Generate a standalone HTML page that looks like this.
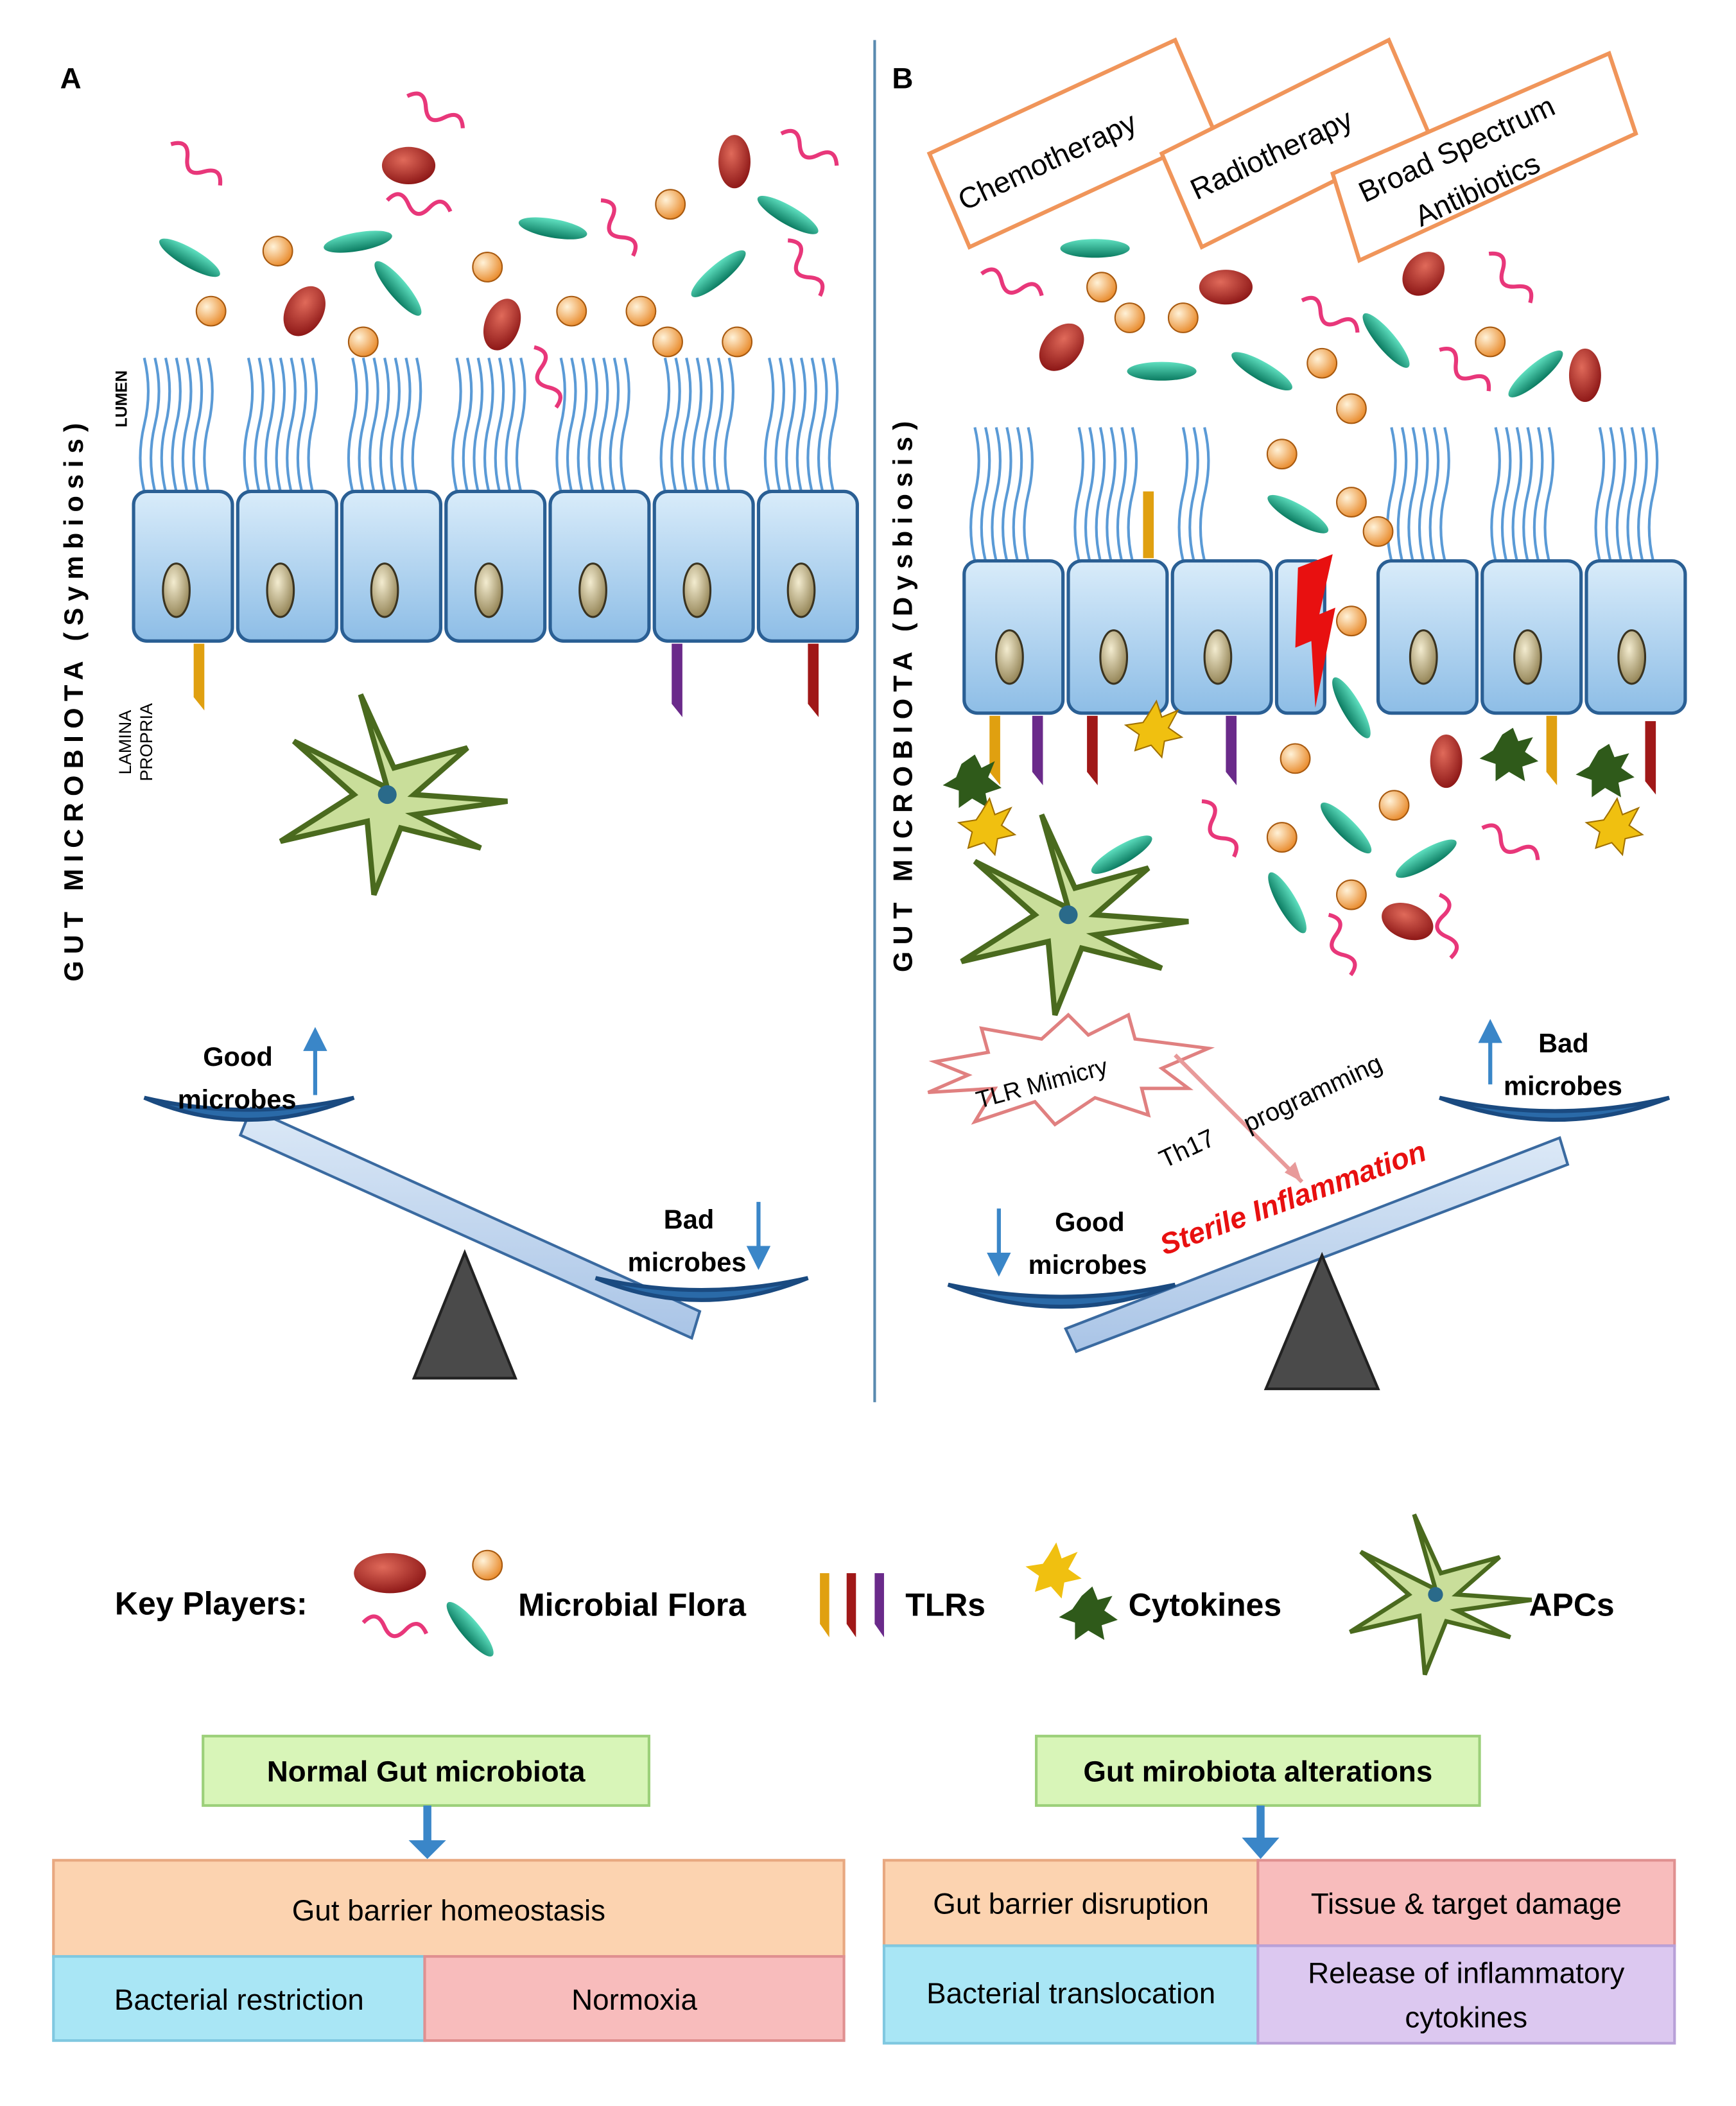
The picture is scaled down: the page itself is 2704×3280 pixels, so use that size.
<!DOCTYPE html>
<html><head><meta charset="utf-8"><style>
html,body{margin:0;padding:0;background:#fff}
svg{display:block}
text{font-family:"Liberation Sans",sans-serif}
</style></head><body>
<svg width="2704" height="3280" viewBox="0 0 1300 1577" xmlns="http://www.w3.org/2000/svg">
<defs>
<linearGradient id="cell" x1="0" y1="0" x2="0" y2="1"><stop offset="0" stop-color="#d9ecfa"/><stop offset="1" stop-color="#8dbde6"/></linearGradient>
<linearGradient id="beam" x1="0" y1="0" x2="0" y2="1"><stop offset="0" stop-color="#dce9f7"/><stop offset="1" stop-color="#a9c4e6"/></linearGradient>
<radialGradient id="ball" cx="0.35" cy="0.35" r="0.7"><stop offset="0" stop-color="#fff2d8"/><stop offset="1" stop-color="#e98a2a"/></radialGradient>
<radialGradient id="red" cx="0.4" cy="0.35" r="0.7"><stop offset="0" stop-color="#e06a5a"/><stop offset="1" stop-color="#8a1414"/></radialGradient>
<linearGradient id="rod" x1="0" y1="0" x2="0" y2="1"><stop offset="0" stop-color="#5fe0c0"/><stop offset="1" stop-color="#0a7a60"/></linearGradient>
<radialGradient id="nuc" cx="0.4" cy="0.35" r="0.7"><stop offset="0" stop-color="#f3ecd0"/><stop offset="1" stop-color="#8f7f50"/></radialGradient>
<marker id="ah" markerWidth="6" markerHeight="6" refX="3" refY="3" orient="auto"><path d="M0,0 L6,3 L0,6z" fill="#3a86c8"/></marker>
<g id="apc"><path d="M0,0 L-20,-70 L5,-15 L60,-30 L20,5 L90,10 L20,20 L70,45 L10,30 L-10,80 L-15,25 L-80,40 L-25,5 L-70,-35z" fill="#c9de9a" stroke="#4a6a1e" stroke-width="4"/><circle cx="0" cy="5" r="7" fill="#2a6a8a"/></g>
<g id="wave"><path d="M0,0 q8,-12 16,0 t16,0 t16,0" fill="none" stroke="#e8377a" stroke-width="3"/></g>
</defs>

<!-- divider -->
<line x1="655" y1="30" x2="655" y2="1050" stroke="#5a8ab0" stroke-width="2"/>
<text x="45" y="66" font-size="22" font-weight="bold">A</text>
<text x="668" y="66" font-size="22" font-weight="bold">B</text>

<!-- vertical labels -->
<text transform="translate(62,735) rotate(-90)" font-size="20" font-weight="bold" letter-spacing="5">GUT MICROBIOTA (Symbiosis)</text>
<text transform="translate(95,320) rotate(-90)" font-size="12" font-weight="bold">LUMEN</text>
<text transform="translate(98,580) rotate(-90)" font-size="13">LAMINA</text>
<text transform="translate(114,585) rotate(-90)" font-size="13">PROPRIA</text>
<text transform="translate(683,728) rotate(-90)" font-size="20" font-weight="bold" letter-spacing="5">GUT MICROBIOTA (Dysbiosis)</text>

<!-- left cells -->
<g id="cellsL">
<g fill="none" stroke="#5a9ad6" stroke-width="2">
<path d="M108,368 q-6,-25 0,-50 t0,-50 M116,368 q-6,-25 0,-50 t0,-50 M124,368 q-6,-25 0,-50 t0,-50 M132,368 q-6,-25 0,-50 t0,-50 M140,368 q-6,-25 0,-50 t0,-50 M148,368 q-6,-25 0,-50 t0,-50 M156,368 q-6,-25 0,-50 t0,-50"/>
<path transform="translate(78,0)" d="M108,368 q-6,-25 0,-50 t0,-50 M116,368 q-6,-25 0,-50 t0,-50 M124,368 q-6,-25 0,-50 t0,-50 M132,368 q-6,-25 0,-50 t0,-50 M140,368 q-6,-25 0,-50 t0,-50 M148,368 q-6,-25 0,-50 t0,-50 M156,368 q-6,-25 0,-50 t0,-50"/>
<path transform="translate(156,0)" d="M108,368 q-6,-25 0,-50 t0,-50 M116,368 q-6,-25 0,-50 t0,-50 M124,368 q-6,-25 0,-50 t0,-50 M132,368 q-6,-25 0,-50 t0,-50 M140,368 q-6,-25 0,-50 t0,-50 M148,368 q-6,-25 0,-50 t0,-50 M156,368 q-6,-25 0,-50 t0,-50"/>
<path transform="translate(234,0)" d="M108,368 q-6,-25 0,-50 t0,-50 M116,368 q-6,-25 0,-50 t0,-50 M124,368 q-6,-25 0,-50 t0,-50 M132,368 q-6,-25 0,-50 t0,-50 M140,368 q-6,-25 0,-50 t0,-50 M148,368 q-6,-25 0,-50 t0,-50 M156,368 q-6,-25 0,-50 t0,-50"/>
<path transform="translate(312,0)" d="M108,368 q-6,-25 0,-50 t0,-50 M116,368 q-6,-25 0,-50 t0,-50 M124,368 q-6,-25 0,-50 t0,-50 M132,368 q-6,-25 0,-50 t0,-50 M140,368 q-6,-25 0,-50 t0,-50 M148,368 q-6,-25 0,-50 t0,-50 M156,368 q-6,-25 0,-50 t0,-50"/>
<path transform="translate(390,0)" d="M108,368 q-6,-25 0,-50 t0,-50 M116,368 q-6,-25 0,-50 t0,-50 M124,368 q-6,-25 0,-50 t0,-50 M132,368 q-6,-25 0,-50 t0,-50 M140,368 q-6,-25 0,-50 t0,-50 M148,368 q-6,-25 0,-50 t0,-50 M156,368 q-6,-25 0,-50 t0,-50"/>
<path transform="translate(468,0)" d="M108,368 q-6,-25 0,-50 t0,-50 M116,368 q-6,-25 0,-50 t0,-50 M124,368 q-6,-25 0,-50 t0,-50 M132,368 q-6,-25 0,-50 t0,-50 M140,368 q-6,-25 0,-50 t0,-50 M148,368 q-6,-25 0,-50 t0,-50 M156,368 q-6,-25 0,-50 t0,-50"/>
</g>
<g fill="url(#cell)" stroke="#2a5f94" stroke-width="2.5">
<rect x="100" y="368" width="74" height="112" rx="10"/><rect x="178" y="368" width="74" height="112" rx="10"/><rect x="256" y="368" width="74" height="112" rx="10"/><rect x="334" y="368" width="74" height="112" rx="10"/><rect x="412" y="368" width="74" height="112" rx="10"/><rect x="490" y="368" width="74" height="112" rx="10"/><rect x="568" y="368" width="74" height="112" rx="10"/>
</g>
<g fill="url(#nuc)" stroke="#3a3320" stroke-width="1.5">
<ellipse cx="132" cy="442" rx="10" ry="20"/><ellipse cx="210" cy="442" rx="10" ry="20"/><ellipse cx="288" cy="442" rx="10" ry="20"/><ellipse cx="366" cy="442" rx="10" ry="20"/><ellipse cx="444" cy="442" rx="10" ry="20"/><ellipse cx="522" cy="442" rx="10" ry="20"/><ellipse cx="600" cy="442" rx="10" ry="20"/>
</g>
</g>
<!-- left TLRs -->
<path d="M145,482 h8 v50 l-8,-10z" fill="#e0a010"/>
<path d="M503,482 h8 v55 l-8,-10z" fill="#6a2a8a"/>
<path d="M605,482 h8 v55 l-8,-10z" fill="#a01818"/>
<use href="#apc" transform="translate(290,590)"/>

<!-- left microbes -->
<g fill="url(#ball)" stroke="#a85a10" stroke-width="1">
<circle cx="208" cy="188" r="11"/><circle cx="158" cy="233" r="11"/><circle cx="272" cy="256" r="11"/><circle cx="365" cy="200" r="11"/><circle cx="428" cy="233" r="11"/><circle cx="480" cy="233" r="11"/><circle cx="500" cy="256" r="11"/><circle cx="552" cy="256" r="11"/><circle cx="502" cy="153" r="11"/>
</g>
<g fill="url(#red)">
<ellipse cx="228" cy="233" rx="14" ry="20" transform="rotate(30 228 233)"/><ellipse cx="306" cy="124" rx="20" ry="14"/><ellipse cx="376" cy="243" rx="13" ry="20" transform="rotate(20 376 243)"/><ellipse cx="550" cy="121" rx="12" ry="20"/>
</g>
<g fill="url(#rod)">
<ellipse cx="142" cy="193" rx="26" ry="7" transform="rotate(30 142 193)"/><ellipse cx="268" cy="181" rx="26" ry="7" transform="rotate(-10 268 181)"/><ellipse cx="298" cy="216" rx="26" ry="7" transform="rotate(50 298 216)"/><ellipse cx="414" cy="171" rx="26" ry="7" transform="rotate(10 414 171)"/><ellipse cx="538" cy="205" rx="26" ry="7" transform="rotate(-40 538 205)"/><ellipse cx="590" cy="161" rx="26" ry="7" transform="rotate(30 590 161)"/>
</g>
<use href="#wave" transform="translate(128,108) rotate(40)"/><use href="#wave" transform="translate(305,72) rotate(30)"/><use href="#wave" transform="translate(290,150) rotate(10)"/><use href="#wave" transform="translate(450,150) rotate(60)"/><use href="#wave" transform="translate(585,100) rotate(30)"/><use href="#wave" transform="translate(590,180) rotate(60)"/><use href="#wave" transform="translate(400,260) rotate(70)"/>

<!-- left seesaw -->
<polygon points="180,850 188,830 524,982 518,1002" fill="url(#beam)" stroke="#3a6aa0" stroke-width="2"/>
<polygon points="310,1032 386,1032 348,938" fill="#4a4a4a" stroke="#222" stroke-width="2"/>
<path d="M108,822 Q185,855 265,822 Q185,840 108,822z" fill="#2a6aa8" stroke="#1a4a80" stroke-width="3"/>
<path d="M446,957 Q525,990 605,957 Q525,975 446,957z" fill="#2a6aa8" stroke="#1a4a80" stroke-width="3"/>
<text x="152" y="798" font-size="20" font-weight="bold">Good</text><text x="133" y="830" font-size="20" font-weight="bold">microbes</text>
<line x1="236" y1="820" x2="236" y2="778" stroke="#3a86c8" stroke-width="3" marker-end="url(#ah)"/>
<text x="497" y="920" font-size="20" font-weight="bold">Bad</text><text x="470" y="952" font-size="20" font-weight="bold">microbes</text>
<line x1="568" y1="900" x2="568" y2="942" stroke="#3a86c8" stroke-width="3" marker-end="url(#ah)"/>

<!-- right boxes -->
<g fill="#fff" stroke="#f0955a" stroke-width="3">
<polygon points="696,115 880,30 910,100 726,185"/>
<polygon points="870,115 1040,30 1070,100 900,185"/>
<polygon points="998,130 1205,40 1225,100 1018,195"/>
</g>
<text transform="translate(722,158) rotate(-25)" font-size="22">Chemotherapy</text>
<text transform="translate(896,150) rotate(-25)" font-size="22">Radiotherapy</text>
<text transform="translate(1022,152) rotate(-25)" font-size="22">Broad Spectrum</text>
<text transform="translate(1064,170) rotate(-25)" font-size="22">Antibiotics</text>

<!-- right cells -->
<g fill="none" stroke="#5a9ad6" stroke-width="2">
<path transform="translate(622,52)" d="M108,368 q-6,-25 0,-50 t0,-50 M116,368 q-6,-25 0,-50 t0,-50 M124,368 q-6,-25 0,-50 t0,-50 M132,368 q-6,-25 0,-50 t0,-50 M140,368 q-6,-25 0,-50 t0,-50 M148,368 q-6,-25 0,-50 t0,-50"/>
<path transform="translate(700,52)" d="M108,368 q-6,-25 0,-50 t0,-50 M116,368 q-6,-25 0,-50 t0,-50 M124,368 q-6,-25 0,-50 t0,-50 M132,368 q-6,-25 0,-50 t0,-50 M140,368 q-6,-25 0,-50 t0,-50 M148,368 q-6,-25 0,-50 t0,-50"/>
<path transform="translate(778,52)" d="M108,368 q-6,-25 0,-50 t0,-50 M116,368 q-6,-25 0,-50 t0,-50 M124,368 q-6,-25 0,-50 t0,-50"/>
<path transform="translate(934,52)" d="M108,368 q-6,-25 0,-50 t0,-50 M116,368 q-6,-25 0,-50 t0,-50 M124,368 q-6,-25 0,-50 t0,-50 M132,368 q-6,-25 0,-50 t0,-50 M140,368 q-6,-25 0,-50 t0,-50 M148,368 q-6,-25 0,-50 t0,-50"/>
<path transform="translate(1012,52)" d="M108,368 q-6,-25 0,-50 t0,-50 M116,368 q-6,-25 0,-50 t0,-50 M124,368 q-6,-25 0,-50 t0,-50 M132,368 q-6,-25 0,-50 t0,-50 M140,368 q-6,-25 0,-50 t0,-50 M148,368 q-6,-25 0,-50 t0,-50"/>
<path transform="translate(1090,52)" d="M108,368 q-6,-25 0,-50 t0,-50 M116,368 q-6,-25 0,-50 t0,-50 M124,368 q-6,-25 0,-50 t0,-50 M132,368 q-6,-25 0,-50 t0,-50 M140,368 q-6,-25 0,-50 t0,-50 M148,368 q-6,-25 0,-50 t0,-50"/>
</g>
<g fill="url(#cell)" stroke="#2a5f94" stroke-width="2.5">
<rect x="722" y="420" width="74" height="114" rx="10"/><rect x="800" y="420" width="74" height="114" rx="10"/><rect x="878" y="420" width="74" height="114" rx="10"/><rect x="956" y="420" width="36" height="114" rx="8"/><rect x="1032" y="420" width="74" height="114" rx="10"/><rect x="1110" y="420" width="74" height="114" rx="10"/><rect x="1188" y="420" width="74" height="114" rx="10"/>
</g>
<polygon points="972,425 998,415 988,460 1000,455 985,530 982,480 970,485" fill="#e81010"/>
<g fill="url(#nuc)" stroke="#3a3320" stroke-width="1.5">
<ellipse cx="756" cy="492" rx="10" ry="20"/><ellipse cx="834" cy="492" rx="10" ry="20"/><ellipse cx="912" cy="492" rx="10" ry="20"/><ellipse cx="1066" cy="492" rx="10" ry="20"/><ellipse cx="1144" cy="492" rx="10" ry="20"/><ellipse cx="1222" cy="492" rx="10" ry="20"/>
</g>
<path d="M856,368 h8 v50 h-8z" fill="#e0a010"/>
<path d="M741,536 h8 v52 l-8,-10z" fill="#e0a010"/><path d="M773,536 h8 v52 l-8,-10z" fill="#6a2a8a"/><path d="M814,536 h8 v52 l-8,-10z" fill="#a01818"/><path d="M918,536 h8 v52 l-8,-10z" fill="#6a2a8a"/><path d="M1158,536 h8 v52 l-8,-10z" fill="#e0a010"/><path d="M1232,540 h8 v55 l-8,-10z" fill="#a01818"/>
<g fill="#2f5a1a"><polygon points="720,572 730,565 735,575 745,570 740,582 750,590 738,594 740,605 728,598 718,605 718,592 706,588 716,582"/>
<polygon points="1125,550 1133,545 1137,555 1148,552 1142,563 1152,570 1140,574 1142,585 1130,578 1120,585 1120,572 1108,568 1118,562"/>
<polygon points="1197,562 1205,557 1209,567 1220,564 1214,575 1224,582 1212,586 1214,597 1202,590 1192,597 1192,584 1180,580 1190,574"/></g>
<g fill="#f0c010" stroke="#a07000" stroke-width="1"><polygon points="860,535 866,525 870,537 882,532 875,545 885,552 872,555 870,567 862,558 850,562 853,550 843,543 856,541"/>
<polygon points="735,608 741,598 745,610 757,605 750,618 760,625 747,628 745,640 737,631 725,635 728,623 718,616 731,614"/>
<polygon points="1205,608 1211,598 1215,610 1227,605 1220,618 1230,625 1217,628 1215,640 1207,631 1195,635 1198,623 1188,616 1201,614"/></g>
<use href="#apc" transform="translate(800,680)"/>

<!-- right microbes -->
<g fill="url(#ball)" stroke="#a85a10" stroke-width="1">
<circle cx="825" cy="215" r="11"/><circle cx="846" cy="238" r="11"/><circle cx="886" cy="238" r="11"/><circle cx="990" cy="272" r="11"/><circle cx="1012" cy="306" r="11"/><circle cx="960" cy="340" r="11"/><circle cx="1012" cy="376" r="11"/><circle cx="1032" cy="398" r="11"/><circle cx="1116" cy="256" r="11"/><circle cx="1012" cy="465" r="11"/><circle cx="970" cy="568" r="11"/><circle cx="1044" cy="603" r="11"/><circle cx="960" cy="627" r="11"/><circle cx="1012" cy="670" r="11"/>
</g>
<g fill="url(#red)">
<ellipse cx="795" cy="260" rx="14" ry="20" transform="rotate(40 795 260)"/><ellipse cx="918" cy="215" rx="20" ry="13"/><ellipse cx="1066" cy="205" rx="14" ry="18" transform="rotate(40 1066 205)"/><ellipse cx="1187" cy="281" rx="12" ry="20"/><ellipse cx="1083" cy="570" rx="12" ry="20"/><ellipse cx="1054" cy="690" rx="20" ry="13" transform="rotate(20 1054 690)"/>
</g>
<g fill="url(#rod)">
<ellipse cx="820" cy="186" rx="26" ry="7"/><ellipse cx="870" cy="278" rx="26" ry="7"/><ellipse cx="945" cy="278" rx="26" ry="7" transform="rotate(30 945 278)"/><ellipse cx="1038" cy="255" rx="26" ry="7" transform="rotate(50 1038 255)"/><ellipse cx="1150" cy="280" rx="26" ry="7" transform="rotate(-40 1150 280)"/><ellipse cx="972" cy="385" rx="26" ry="7" transform="rotate(30 972 385)"/><ellipse cx="1012" cy="530" rx="26" ry="7" transform="rotate(60 1012 530)"/><ellipse cx="840" cy="640" rx="26" ry="7" transform="rotate(-30 840 640)"/><ellipse cx="1008" cy="620" rx="26" ry="7" transform="rotate(45 1008 620)"/><ellipse cx="1068" cy="643" rx="26" ry="7" transform="rotate(-30 1068 643)"/><ellipse cx="964" cy="676" rx="26" ry="7" transform="rotate(60 964 676)"/>
</g>
<use href="#wave" transform="translate(735,205) rotate(20)"/><use href="#wave" transform="translate(975,225) rotate(30)"/><use href="#wave" transform="translate(1115,190) rotate(50)"/><use href="#wave" transform="translate(1078,262) rotate(40)"/><use href="#wave" transform="translate(900,600) rotate(60)"/><use href="#wave" transform="translate(1110,620) rotate(30)"/><use href="#wave" transform="translate(995,685) rotate(70)"/><use href="#wave" transform="translate(1078,670) rotate(80)"/>

<!-- TLR Mimicry -->
<polygon points="700,795 740,788 735,770 780,778 800,760 815,775 845,760 850,778 905,785 870,800 890,815 855,815 860,835 820,822 790,842 775,825 730,840 745,815 695,818 725,805" fill="#fff" stroke="#e08080" stroke-width="2.5"/>
<text transform="translate(733,830) rotate(-15)" font-size="18">TLR Mimicry</text>
<line x1="880" y1="790" x2="975" y2="885" stroke="#e89a9a" stroke-width="3"/>
<polygon points="975,885 962,878 970,870" fill="#e89a9a"/>
<text transform="translate(872,875) rotate(-25)" font-size="19">Th17</text>
<text transform="translate(935,848) rotate(-25)" font-size="19">programming</text>
<text transform="translate(872,940) rotate(-20)" font-size="22" font-weight="bold" font-style="italic" fill="#e81010">Sterile Inflammation</text>

<!-- right seesaw -->
<polygon points="798,995 1168,852 1174,872 806,1012" fill="url(#beam)" stroke="#3a6aa0" stroke-width="2"/>
<polygon points="948,1040 1032,1040 990,940" fill="#4a4a4a" stroke="#222" stroke-width="2"/>
<path d="M710,962 Q795,995 880,962 Q795,980 710,962z" fill="#2a6aa8" stroke="#1a4a80" stroke-width="3"/>
<path d="M1078,822 Q1165,855 1250,822 Q1165,842 1078,822z" fill="#2a6aa8" stroke="#1a4a80" stroke-width="3"/>
<text x="790" y="922" font-size="20" font-weight="bold">Good</text><text x="770" y="954" font-size="20" font-weight="bold">microbes</text>
<line x1="748" y1="905" x2="748" y2="947" stroke="#3a86c8" stroke-width="3" marker-end="url(#ah)"/>
<text x="1152" y="788" font-size="20" font-weight="bold">Bad</text><text x="1126" y="820" font-size="20" font-weight="bold">microbes</text>
<line x1="1116" y1="812" x2="1116" y2="772" stroke="#3a86c8" stroke-width="3" marker-end="url(#ah)"/>

<!-- key players -->
<text x="86" y="1209" font-size="24" font-weight="bold">Key Players:</text>
<ellipse cx="292" cy="1178" rx="27" ry="15" fill="url(#red)"/>
<circle cx="365" cy="1172" r="11" fill="url(#ball)" stroke="#a85a10"/>
<use href="#wave" transform="translate(272,1215) rotate(10)"/>
<ellipse cx="352" cy="1220" rx="26" ry="7" transform="rotate(50 352 1220)" fill="url(#rod)"/>
<text x="388" y="1210" font-size="24" font-weight="bold">Microbial Flora</text>
<path d="M614,1178 h7 v48 l-7,-10z" fill="#e0a010"/><path d="M634,1178 h7 v48 l-7,-10z" fill="#a01818"/><path d="M655,1178 h7 v48 l-7,-10z" fill="#6a2a8a"/>
<text x="678" y="1210" font-size="24" font-weight="bold">TLRs</text>
<polygon points="785,1165 791,1155 795,1167 807,1162 800,1175 810,1182 797,1185 795,1197 787,1188 775,1192 778,1180 768,1173 781,1171" fill="#f0c010"/>
<polygon points="810,1195 818,1188 822,1198 833,1195 827,1206 837,1213 825,1217 827,1228 815,1221 805,1228 805,1215 793,1211 803,1205" fill="#2f5a1a"/>
<text x="845" y="1210" font-size="24" font-weight="bold">Cytokines</text>
<use href="#apc" transform="translate(1075,1190) scale(0.8)"/>
<text x="1145" y="1210" font-size="24" font-weight="bold">APCs</text>

<!-- bottom left -->
<rect x="152" y="1300" width="334" height="52" fill="#d8f5b8" stroke="#9cd07a" stroke-width="2"/>
<text x="319" y="1334" font-size="22" font-weight="bold" text-anchor="middle">Normal Gut microbiota</text>
<line x1="320" y1="1352" x2="320" y2="1382" stroke="#3a86c8" stroke-width="6"/>
<polygon points="306,1378 334,1378 320,1392" fill="#3a86c8"/>
<rect x="40" y="1393" width="592" height="72" fill="#fcd3b0" stroke="#e8a880" stroke-width="2"/>
<text x="336" y="1438" font-size="22" text-anchor="middle">Gut barrier homeostasis</text>
<rect x="40" y="1465" width="278" height="63" fill="#a9e6f5" stroke="#80c8e0" stroke-width="2"/>
<text x="179" y="1505" font-size="22" text-anchor="middle">Bacterial restriction</text>
<rect x="318" y="1465" width="314" height="63" fill="#f8bcbc" stroke="#e09090" stroke-width="2"/>
<text x="475" y="1505" font-size="22" text-anchor="middle">Normoxia</text>

<!-- bottom right -->
<rect x="776" y="1300" width="332" height="52" fill="#d8f5b8" stroke="#9cd07a" stroke-width="2"/>
<text x="942" y="1334" font-size="22" font-weight="bold" text-anchor="middle">Gut mirobiota alterations</text>
<line x1="944" y1="1352" x2="944" y2="1380" stroke="#3a86c8" stroke-width="6"/>
<polygon points="930,1376 958,1376 944,1392" fill="#3a86c8"/>
<rect x="662" y="1393" width="280" height="64" fill="#fcd3b0" stroke="#e8a880" stroke-width="2"/>
<text x="802" y="1433" font-size="22" text-anchor="middle">Gut barrier disruption</text>
<rect x="942" y="1393" width="312" height="64" fill="#f8bcbc" stroke="#e09090" stroke-width="2"/>
<text x="1098" y="1433" font-size="22" text-anchor="middle">Tissue &amp; target damage</text>
<rect x="662" y="1457" width="280" height="73" fill="#a9e6f5" stroke="#80c8e0" stroke-width="2"/>
<text x="802" y="1500" font-size="22" text-anchor="middle">Bacterial translocation</text>
<rect x="942" y="1457" width="312" height="73" fill="#dcc8f0" stroke="#b8a0d8" stroke-width="2"/>
<text x="1098" y="1485" font-size="22" text-anchor="middle">Release of inflammatory</text>
<text x="1098" y="1518" font-size="22" text-anchor="middle">cytokines</text>
</svg>
</body></html>
